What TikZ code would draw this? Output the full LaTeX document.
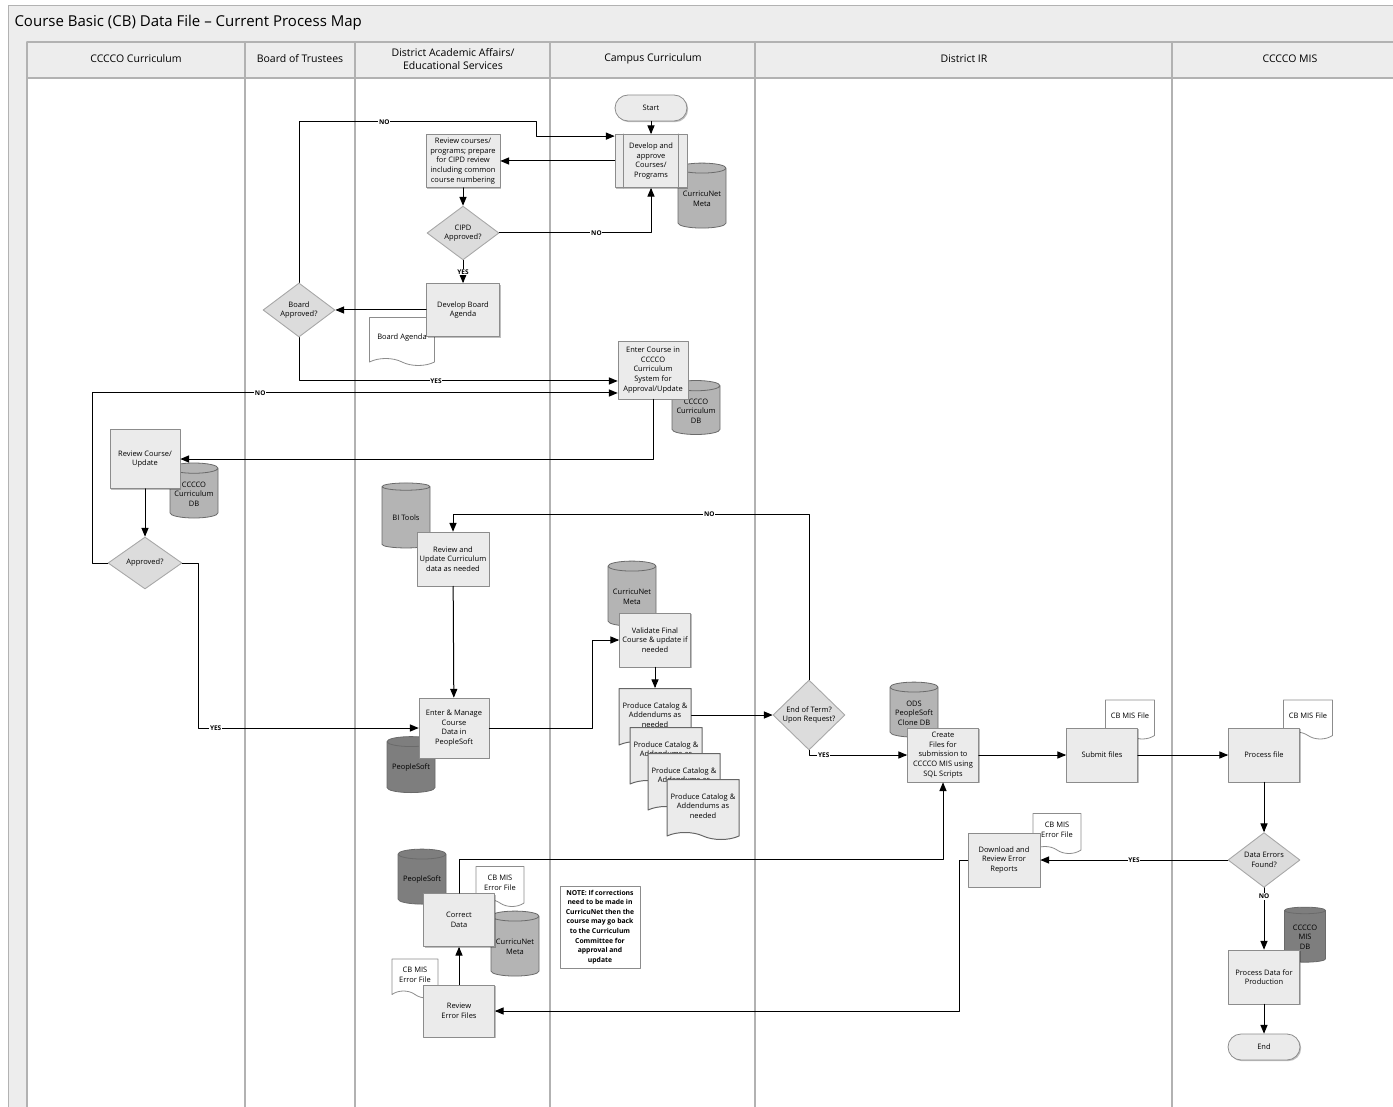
\documentclass[tikz,border=0pt]{standalone}
\usepackage{fontspec}
\setmainfont{Open Sans}
\usetikzlibrary{arrows,shapes.geometric,shapes.symbols,shadows}

\definecolor{boxfill}{HTML}{EBEBEB}
\definecolor{boxline}{HTML}{8C8C8C}
\definecolor{dmdfill}{HTML}{DCDCDC}
\definecolor{dmdline}{HTML}{A8A8A8}
\definecolor{cyllight}{HTML}{B4B4B4}
\definecolor{cyldark}{HTML}{7E7E7E}
\definecolor{cylline}{HTML}{6A6A6A}
\definecolor{hdfill}{HTML}{EDEDED}
\definecolor{laneline}{HTML}{B2B2B2}
\newcommand{\bxfont}{\fontsize{7.5}{9.6}\selectfont}

\begin{document}
\begin{tikzpicture}[x=1pt,y=-1pt,line cap=round,line join=round,>=triangle 45,
    box/.style={rectangle,draw=boxline,fill=boxfill,line width=0.8pt,minimum width=71pt,
      minimum height=54pt,inner sep=1pt,align=center,font=\bxfont,
      drop shadow={shadow xshift=1.2pt,shadow yshift=-1.2pt,fill=black,opacity=0.25}},
    term/.style={rectangle,rounded corners=13pt,draw=boxline,fill=boxfill,line width=0.8pt,
      minimum width=72pt,minimum height=26pt,font=\bxfont,
      drop shadow={shadow xshift=1.2pt,shadow yshift=-1.2pt,fill=black,opacity=0.25}},
    dmd/.style={diamond,draw=dmdline,fill=dmdfill,line width=0.9pt,minimum width=72pt,
      minimum height=52pt,inner sep=0pt,align=center,font=\bxfont},
    cyl/.style={cylinder,shape border rotate=90,aspect=0.25,draw=cylline,line width=0.8pt,
      align=center,font=\bxfont,inner sep=1pt},
    docfile/.style={tape,tape bend top=none,tape bend bottom=out and in,tape bend height=7pt,
      draw=boxline,fill=white,line width=0.8pt,align=center,font=\bxfont,inner sep=1pt},
    conn/.style={->,black,line width=1pt},
    lbl/.style={fill=white,inner sep=0.8pt,font=\fontsize{6.5}{7}\selectfont\bfseries},
    lane/.style={laneline,line width=1.2pt},
    hd/.style={align=center,font=\fontsize{10.5}{12.5}\selectfont}]
  \useasboundingbox (0,0) rectangle (1393,1107);

  % Add Lanes
  \fill[hdfill] (8,5) rectangle (1393,42);
  \fill[hdfill] (8,42) rectangle (27,1107);
  \fill[hdfill] (27,42) rectangle (1393,78);
  \draw[laneline,line width=0.8pt] (8,1107) -- (8,5) -- (1393,5);
  \draw[lane] (27,42) -- (1393,42);
  \draw[lane] (27,78) -- (1393,78);
  \foreach \lx in {27,245,355,550,755,1172}
    \draw[lane] (\lx,42) -- (\lx,1107);

  \node[anchor=west,font=\fontsize{15}{18}\selectfont] (title) at (11,23)
    {Course Basic (CB) Data File – Current Process Map};
  \node[hd] (hcc) at (136,59) {CCCCO Curriculum};
  \node[hd] (hbt) at (300,59) {Board of Trustees};
  \node[hd] (hda) at (453,59) {District Academic Affairs/\\Educational Services};
  \node[hd] (hcp) at (653,59) {Campus Curriculum};
  \node[hd] (hir) at (964,59) {District IR};
  \node[hd] (hmis) at (1290,59) {CCCCO MIS};

  % Add Data Stores
  \node[cyl,fill=cyllight,minimum width=48pt,minimum height=65pt] (cnm1) at (702,199) {CurricuNet\\Meta};
  \node[cyl,fill=cyllight,minimum width=48pt,minimum height=54pt] (ccdb1) at (696,411) {CCCCO\\Curriculum\\DB};
  \node[cyl,fill=cyllight,minimum width=48pt,minimum height=55pt] (ccdb2) at (194,494) {CCCCO\\Curriculum\\DB};
  \node[cyl,fill=cyllight,minimum width=48pt,minimum height=65pt] (bitools) at (406,518) {BI Tools};
  \node[cyl,fill=cyldark,minimum width=48pt,minimum height=56pt] (ps1) at (411,768) {PeopleSoft};
  \node[cyl,fill=cyllight,minimum width=48pt,minimum height=65pt] (cnm2) at (632,597) {CurricuNet\\Meta};
  \node[cyl,fill=cyllight,minimum width=48pt,minimum height=55pt] (ods) at (914,713) {ODS\\PeopleSoft\\Clone DB};
  \node[cyl,fill=cyldark,minimum width=41pt,minimum height=55pt] (misdb) at (1305,937) {CCCCO\\MIS\\DB};
  \node[cyl,fill=cyldark,minimum width=48pt,minimum height=55pt] (ps2) at (422,880) {PeopleSoft};
  \node[cyl,fill=cyllight,minimum width=48pt,minimum height=65pt] (cnm3) at (515,947) {CurricuNet\\Meta};

  % Add Documents
  \node[docfile,minimum width=65pt,minimum height=48pt] (bagenda) at (402,338) {Board Agenda};
  \node[docfile,minimum width=49pt,minimum height=39pt] (cbf1) at (1130,716) {CB MIS File};
  \node[docfile,minimum width=49pt,minimum height=39pt] (cbf2) at (1308,716) {CB MIS File};
  \node[docfile,minimum width=48pt,minimum height=40pt] (cbe1) at (1057,830) {CB MIS\\Error File};
  \node[docfile,minimum width=48pt,minimum height=40pt] (cbe2) at (500,883) {CB MIS\\Error File};
  \node[docfile,minimum width=46pt,minimum height=39pt] (cbe3) at (415,975) {CB MIS\\Error File};
  \foreach \i/\px/\py in {1/655/715,2/666/754,3/684/780,4/703/806}
    \node[docfile,fill=boxfill,draw=black!60,line width=1pt,minimum width=72pt,minimum height=60pt]
      (prod\i) at (\px,\py) {Produce Catalog \&\\Addendums as\\needed};

  % Add Steps
  \node[term] (start) at (651,108) {Start};
  \node[box,minimum width=72pt,minimum height=53pt] (dev) at (651,161) {Develop and\\approve\\Courses/\\Programs};
  \draw[boxline,line width=0.8pt] ([xshift=9pt]dev.north west) -- ([xshift=9pt]dev.south west);
  \draw[boxline,line width=0.8pt] ([xshift=-9pt]dev.north east) -- ([xshift=-9pt]dev.south east);
  \node[box,minimum width=74pt,minimum height=53pt] (revcp) at (463,161)
    {Review courses/\\programs; prepare\\for CIPD review\\including common\\course numbering};
  \node[dmd] (cipd) at (463,233) {CIPD\\Approved?};
  \node[box,minimum width=73pt,minimum height=53pt] (devba) at (463,310) {Develop Board\\Agenda};
  \node[dmd] (bda) at (299,310) {Board\\Approved?};
  \node[box,minimum width=70pt,minimum height=58pt] (entc) at (653,370)
    {Enter Course in\\CCCCO\\Curriculum\\System for\\Approval/Update};
  \node[box,minimum width=70pt,minimum height=59pt] (revcu) at (145,459) {Review Course/\\Update};
  \node[dmd,minimum width=74pt] (appr) at (145,563) {Approved?};
  \node[box,minimum width=72pt,minimum height=54pt] (revup) at (453,559)
    {Review and\\Update Curriculum\\data as needed};
  \node[box,minimum width=70pt,minimum height=60pt] (entmg) at (454,728)
    {Enter \& Manage\\Course\\Data in\\PeopleSoft};
  \node[box] (valid) at (655,640) {Validate Final\\Course \& update if\\needed};
  \node[dmd,minimum height=54pt] (eot) at (809,715) {End of Term?\\Upon Request?};
  \node[box] (create) at (943,755) {Create\\Files for\\submission to\\CCCCO MIS using\\SQL Scripts};
  \node[box] (submit) at (1102,755) {Submit files};
  \node[box] (procf) at (1264,755) {Process file};
  \node[dmd] (derr) at (1264,860) {Data Errors\\Found?};
  \node[box,minimum width=72pt] (dlrev) at (1004,860) {Download and\\Review Error\\Reports};
  \node[box] (pdp) at (1264,977) {Process Data for\\Production};
  \node[term] (endn) at (1264,1047) {End};
  \node[box,minimum height=53pt] (corr) at (459,920) {Correct\\Data};
  \node[box,minimum height=52pt] (reverr) at (459,1011) {Review\\Error Files};
  \node[rectangle,draw=boxline,fill=white,line width=0.8pt,minimum width=80pt,minimum height=82pt,
    inner sep=1pt,align=center,font=\fontsize{6.8}{9.6}\selectfont\bfseries] (note) at (600,927)
    {NOTE: If corrections\\need to be made in\\CurricuNet then the\\course may go back\\to the Curriculum\\Committee for\\approval and\\update};

  % Add Connectors
  \draw[conn] (start) -- (dev);
  \draw[conn] (dev) -- (revcp);
  \draw[conn] (revcp) -- (cipd);
  \draw[conn] (cipd.east) -| node[lbl,pos=0.32]{NO} (dev.south);
  \draw[conn] (cipd) -- node[lbl]{YES} (devba);
  \draw[conn] (devba) -- (bda);
  \draw[conn] (bda.north) -- (299,122) -- node[lbl,pos=0.36]{NO} (536,122) |- ([yshift=-2pt]dev.north west);
  \draw[conn] (bda.south) |- node[lbl,pos=0.715]{YES} ([yshift=-11pt]entc.west);
  \draw[conn] (appr.west) -- (92,563) |- node[lbl,pos=0.66]{NO} ([yshift=-23pt]entc.west);
  \draw[conn] (entc.south) |- (revcu.east);
  \draw[conn] (revcu) -- (appr);
  \draw[conn] (appr.east) -- (198,563) |- node[lbl,pos=0.54]{YES} (entmg.west);
  \draw[conn] (revup) -- (entmg);
  \draw[conn] (entmg.east) -- (592,728) |- (valid.west);
  \draw[conn] (valid) -- (prod1);
  \draw[conn] (prod1.east) -- (eot.west);
  \draw[conn] (eot.north) -- (809,514) -| node[lbl,pos=0.14]{NO} (revup.north);
  \draw[conn] (eot.south) -- (809,755) -- node[lbl,pos=0.15]{YES} (create.west);
  \draw[conn] (create) -- (submit);
  \draw[conn] (submit) -- (procf);
  \draw[conn] (procf) -- (derr);
  \draw[conn] (derr) -- node[lbl]{YES} (dlrev);
  \draw[conn] (derr) -- node[lbl,pos=0.14]{NO} (pdp);
  \draw[conn] (pdp) -- (endn);
  \draw[conn] (dlrev.west) -- (959,860) |- (reverr.east);
  \draw[conn] (corr.north) -- (459,859) -| (create.south);
  \draw[conn] (reverr) -- (corr);
\end{tikzpicture}
\end{document}
